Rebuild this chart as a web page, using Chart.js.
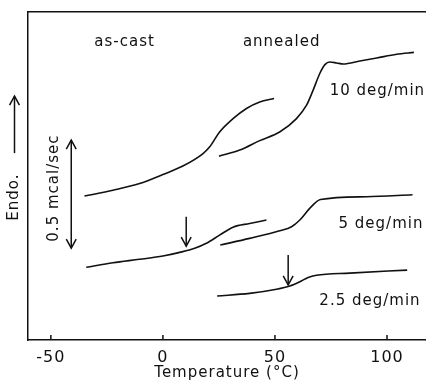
<!DOCTYPE html>
<html><head><meta charset="utf-8">
<script src="https://cdn.jsdelivr.net/npm/chart.js@4/dist/chart.umd.min.js"></script>
<style>html,body{margin:0;padding:0;background:#fff}#wrap{width:426px;height:382px}</style>
</head><body><div id="wrap"><canvas id="c" width="426" height="382"></canvas></div>
<script>
// ---- data (temperature in °C, heat flow offset in mcal/sec) ----
const xTicks = [-50, 0, 50, 100];

const asCast10T = [-35.0, -22.3, -10.4, 0, 8.9, 17.9, 20.9, 25.3, 31.3, 37.3, 43.2, 49.6];
const asCast10Y = [0.667, 0.694, 0.725, 0.767, 0.806, 0.864, 0.895, 0.964, 1.026, 1.073, 1.103, 1.119];

const annealed10T = [25.0, 34.3, 43.2, 52.1, 59.6, 64.1, 67.0, 70.0, 72.3, 74.5, 77.5, 80.4, 87.9, 95.4, 104.3, 112.0];
const annealed10Y = [0.852, 0.880, 0.924, 0.964, 1.026, 1.088, 1.157, 1.235, 1.276, 1.288, 1.284, 1.279, 1.293, 1.307, 1.324, 1.333];

const asCast5T = [-34.2, -22.3, -10.4, 0, 7.5, 14.2, 19.4, 25.3, 31.3, 38.7, 46.2];
const asCast5Y = [0.337, 0.358, 0.374, 0.389, 0.406, 0.425, 0.448, 0.486, 0.523, 0.540, 0.556];

const annealed5T = [25.6, 38.7, 52.1, 57.4, 61.1, 65.5, 70.3, 90.9, 111.4];
const annealed5Y = [0.440, 0.471, 0.506, 0.525, 0.556, 0.610, 0.651, 0.664, 0.673];

const annealed25T = [24.2, 38.7, 50.7, 56.6, 61.1, 64.8, 68.5, 83.4, 109.0];
const annealed25Y = [0.204, 0.216, 0.235, 0.250, 0.270, 0.290, 0.300, 0.310, 0.324];

// onset arrows: temperature, from value, to value
const onsetT = [10.4, 55.9];
const onsetFrom = [0.571, 0.394];
const onsetTo = [0.435, 0.255];

// scale bar: 0.5 mcal/sec
const scaleBarT = -40.9;
const scaleBarLow = 0.426;
const scaleBarHigh = 0.926;

const labelTexts = ['as-cast', 'annealed', '10 deg/min', '5 deg/min', '2.5 deg/min'];
const labelT = [-17.1, 53.0, 95.7, 97.3, 92.4];
const labelY = [1.380, 1.380, 1.153, 0.537, 0.181];

// ---- chart ----
const ink = '#111';
const FONT = 'DejaVu Sans';
function pts(T, Y) { return T.map((t, i) => ({x: t, y: Y[i]})); }
function ds(T, Y) {
  return {data: pts(T, Y), showLine: true, pointRadius: 0, borderColor: ink,
          borderWidth: 1.6, cubicInterpolationMode: 'monotone', fill: false};
}

function head(ctx, x, y, dir, s) {
  ctx.beginPath();
  ctx.moveTo(x - s * 0.55, y - dir * s);
  ctx.lineTo(x, y);
  ctx.lineTo(x + s * 0.55, y - dir * s);
  ctx.stroke();
}

const decor = {
  id: 'decor',
  beforeDraw(chart) { chart.ctx.letterSpacing = '1px'; },
  afterDraw(chart) {
    const ctx = chart.ctx, xs = chart.scales.x, ys = chart.scales.y;
    const bottom = chart.chartArea.bottom;
    ctx.save();
    ctx.strokeStyle = ink; ctx.fillStyle = ink; ctx.lineWidth = 1.5;
    // inward ticks
    xTicks.forEach(v => {
      const px = xs.getPixelForValue(v);
      ctx.beginPath(); ctx.moveTo(px, bottom); ctx.lineTo(px, bottom - 5); ctx.stroke();
    });
    // onset arrows
    onsetT.forEach((t, i) => {
      const px = xs.getPixelForValue(t);
      const y0 = ys.getPixelForValue(onsetFrom[i]), y1 = ys.getPixelForValue(onsetTo[i]);
      ctx.beginPath(); ctx.moveTo(px, y0); ctx.lineTo(px, y1); ctx.stroke();
      head(ctx, px, y1, 1, 9);
    });
    // scale bar
    const sx = xs.getPixelForValue(scaleBarT);
    const sy0 = ys.getPixelForValue(scaleBarHigh), sy1 = ys.getPixelForValue(scaleBarLow);
    ctx.beginPath(); ctx.moveTo(sx, sy0); ctx.lineTo(sx, sy1); ctx.stroke();
    head(ctx, sx, sy0, -1, 9); head(ctx, sx, sy1, 1, 9);
    // labels
    ctx.font = '15px "' + FONT + '"';
    ctx.textAlign = 'center'; ctx.textBaseline = 'middle';
    labelTexts.forEach((s, i) => {
      ctx.fillText(s, xs.getPixelForValue(labelT[i]), ys.getPixelForValue(labelY[i]));
    });
    // scale bar label (rotated)
    ctx.save();
    ctx.translate(xs.getPixelForValue(-48.4), ys.getPixelForValue(0.704));
    ctx.rotate(-Math.PI / 2);
    ctx.fillText('0.5 mcal/sec', 0, 0);
    ctx.restore();
    // Endo. label with arrow, left of axis
    const ex = chart.chartArea.left - 13.5;
    ctx.save();
    ctx.translate(ex, ys.getPixelForValue(0.662));
    ctx.rotate(-Math.PI / 2);
    ctx.fillText('Endo.', 0, 0);
    ctx.restore();
    const ea0 = ys.getPixelForValue(0.866), ea1 = ys.getPixelForValue(1.13);
    ctx.beginPath(); ctx.moveTo(ex, ea0); ctx.lineTo(ex, ea1); ctx.stroke();
    head(ctx, ex, ea1, -1, 9);
    ctx.restore();
  }
};

new Chart(document.getElementById('c'), {
  type: 'scatter',
  data: {datasets: [
    ds(asCast10T, asCast10Y), ds(annealed10T, annealed10Y),
    ds(asCast5T, asCast5Y), ds(annealed5T, annealed5Y),
    ds(annealed25T, annealed25Y)
  ]},
  options: {
    responsive: false, devicePixelRatio: 1, animation: false,
    layout: {padding: {left: 28, top: 12, right: 0, bottom: 0}},
    plugins: {legend: {display: false}, tooltip: {enabled: false}},
    scales: {
      x: {
        type: 'linear', position: 'bottom', min: -60.2, max: 117.4,
        afterBuildTicks: s => { s.ticks = xTicks.map(v => ({value: v})); },
        afterFit: s => { s.height = 42; },
        ticks: {color: ink, font: {family: FONT, size: 16}, padding: 0, maxRotation: 0, autoSkip: false,
                callback: v => String(v)},
        grid: {display: false},
        border: {display: true, color: ink, width: 1.5},
        title: {display: true, text: 'Temperature (°C)', color: ink, font: {family: FONT, size: 15}, padding: {top: 0, bottom: 0}}
      },
      x2: {
        type: 'linear', position: 'top', min: -60.2, max: 117.4,
        afterFit: s => { s.height = 0; },
        ticks: {display: false}, grid: {display: false},
        border: {display: true, color: ink, width: 1.5}
      },
      y: {
        min: 0, max: 1.52,
        afterFit: s => { s.width = 0; },
        ticks: {display: false}, grid: {display: false},
        border: {display: true, color: ink, width: 1.5}
      }
    }
  },
  plugins: [decor]
});
</script></body></html>
